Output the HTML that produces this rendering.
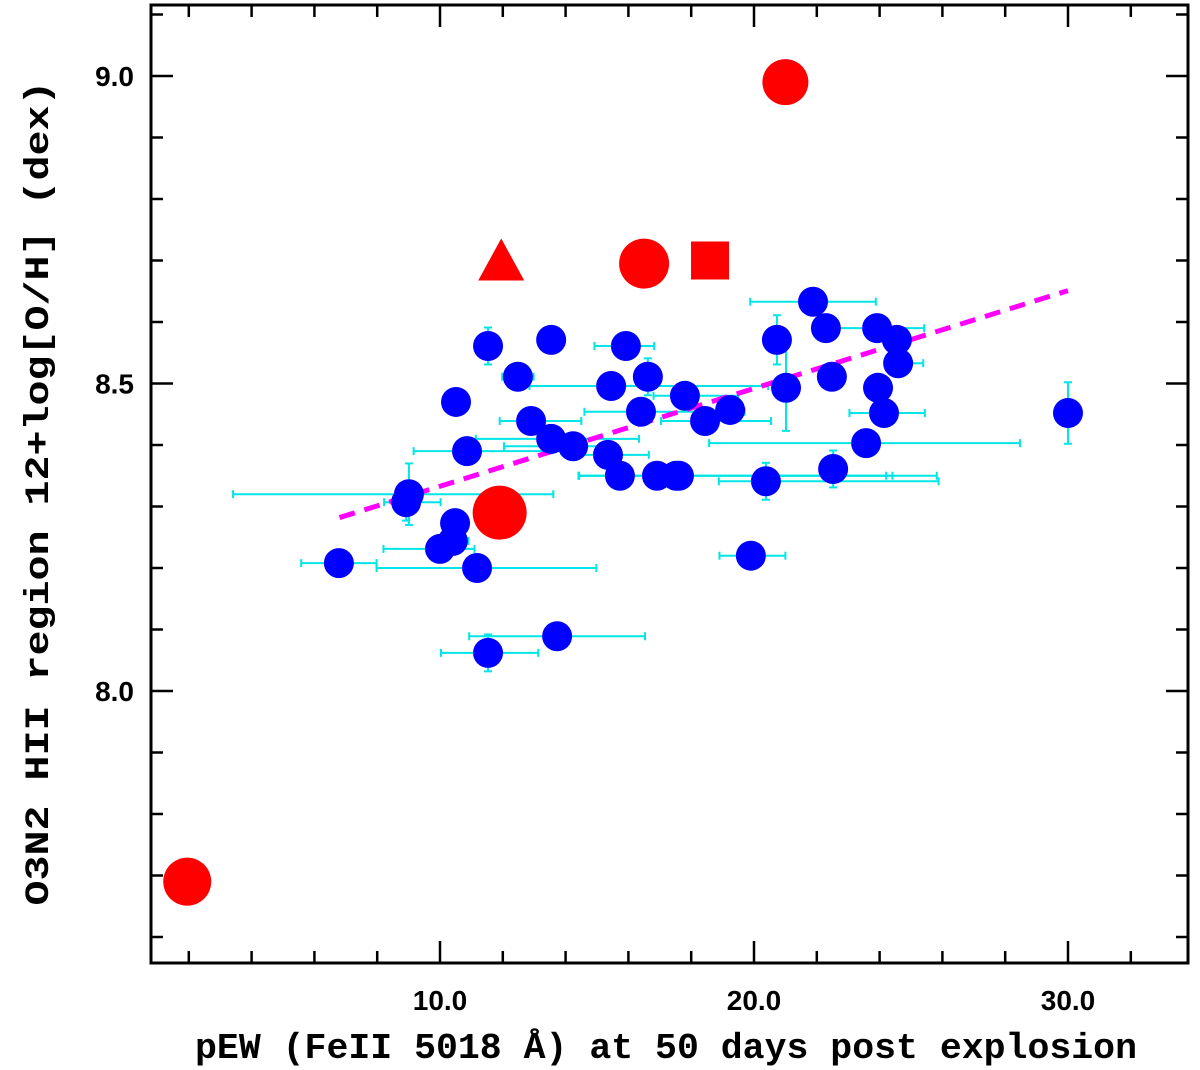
<!DOCTYPE html>
<html><head><meta charset="utf-8"><style>
body{margin:0;background:#fff}
svg{display:block}
</style></head><body>
<svg id="chart" width="1200" height="1070" xmlns="http://www.w3.org/2000/svg"></svg>
<script>
// data arrays
const pewX = [6.78,9.01,8.92,10.0,10.41,10.48,11.18,11.53,10.51,10.86,12.48,12.90,13.54,13.54,14.24,15.35,15.45,15.73,15.92,16.40,16.62,16.91,17.52,17.61,17.80,18.44,19.24,19.90,20.38,20.73,21.02,21.88,22.29,22.48,22.52,23.57,23.92,23.95,24.14,24.55,24.59,30.0,13.73,11.53];
const ohY = [8.208,8.320,8.307,8.231,8.244,8.273,8.200,8.561,8.470,8.390,8.511,8.439,8.571,8.410,8.398,8.384,8.496,8.350,8.561,8.454,8.511,8.350,8.350,8.350,8.480,8.439,8.457,8.220,8.341,8.571,8.493,8.633,8.590,8.511,8.361,8.403,8.590,8.493,8.452,8.571,8.533,8.452,8.089,8.062];
const xErrLo = [1.2,5.6,0.7,1.8,0.5,0,3.2,0,0,1.7,0.5,1.0,0,2.4,2.2,1.0,2.6,1.3,1.0,1.8,0,2.5,3.1,0.9,1.0,1.4,0.3,1.0,1.5,0,0,2.0,0,0,0,5.0,1.3,0,1.1,0,0,0,2.8,1.5];
const xErrHi = [1.2,4.6,1.1,1.1,0.5,0,3.8,0,0,3.0,0.5,1.6,0,2.8,0.9,1.3,5.0,2.2,0.9,3.3,0,7.3,8.3,6.8,1.7,2.1,0.3,1.1,5.5,0,0,2.0,0,0,0,4.9,1.5,0,1.3,0,0.8,0,2.8,1.6];
const yErr = [0.02,0.05,0.03,0.02,0.02,0.02,0.02,0.03,0.02,0.02,0.02,0.02,0.02,0.02,0.02,0.02,0.02,0.02,0.02,0.02,0.03,0.02,0.02,0.02,0.02,0.02,0.02,0.02,0.03,0.04,0.07,0.02,0.02,0.02,0.03,0.02,0.02,0.02,0.02,0.02,0.02,0.05,0.02,0.03];
const redCircX = [1.95,21.0,16.5,11.9];
const redCircY = [7.69,8.99,8.695,8.29];
const redCircR = [24,23,25,27];
const triX = [11.95], triY = [8.70];
const sqX = [18.6], sqY = [8.70];
const fitX = [6.8,30.0], fitY = [8.282,8.651];
const xTicks = [10,20,30], xTickLabels = ["10.0","20.0","30.0"];
const yTicks = [8.0,8.5,9.0], yTickLabels = ["8.0","8.5","9.0"];

const L=151,R=1188,T=5,B=963;
const sx = v => 126 + v*31.4;
const sy = v => 76 + (9.0 - v)*615;
const svg = document.getElementById('chart');
const NS='http://www.w3.org/2000/svg';
function el(tag, attrs, parent){const e=document.createElementNS(NS,tag);for(const k in attrs)e.setAttribute(k,attrs[k]);(parent||svg).appendChild(e);return e;}

const gErr = el('g',{});


pewX.forEach((x,i)=>{
  const y=ohY[i], cx=sx(x), cy=sy(y), st={stroke:'#00e5e5','stroke-width':2};
  if(xErrLo[i]+xErrHi[i]>0){
    const x1=sx(x-xErrLo[i]), x2=sx(x+xErrHi[i]);
    el('line',{x1,x2,y1:cy,y2:cy,...st},gErr);
    el('line',{x1,x2:x1,y1:cy-4,y2:cy+4,...st},gErr);
    el('line',{x1:x2,x2,y1:cy-4,y2:cy+4,...st},gErr);
  }
  const y1=sy(y+yErr[i]), y2=sy(y-yErr[i]);
  el('line',{x1:cx,x2:cx,y1,y2,...st},gErr);
  el('line',{x1:cx-4,x2:cx+4,y1,y2:y1,...st},gErr);
  el('line',{x1:cx-4,x2:cx+4,y1:y2,y2,...st},gErr);
});
const fit = el('line',{x1:sx(fitX[0]),y1:sy(fitY[0]),x2:sx(fitX[1]),y2:sy(fitY[1]),stroke:'#ff00ff','stroke-width':5,'stroke-dasharray':'16,10'});


pewX.forEach((x,i)=>{
  const c=el('circle',{cx:sx(x),cy:sy(ohY[i]),r:15,fill:'#0000ff'});
  
  
});
redCircX.forEach((x,i)=>{
  const c=el('circle',{cx:sx(x),cy:sy(redCircY[i]),r:redCircR[i],fill:'#ff0000'});
  
  
});
triX.forEach((x,i)=>{
  const cx=sx(x),cy=sy(triY[i]);
  const p=el('polygon',{points:`${cx-23},${cy+20} ${cx+23},${cy+20} ${cx},${cy-22}`,fill:'#ff0000'});
  
  
});
sqX.forEach((x,i)=>{
  const cx=sx(x),cy=sy(sqY[i]);
  const r=el('rect',{x:cx-19,y:cy-19,width:38,height:38,fill:'#ff0000'});
  
  
});
const fr=el('rect',{x:L,y:T,width:R-L,height:B-T,fill:'none',stroke:'#000','stroke-width':3});


for(let v=2; v<=33; v+=2){
  const X=sx(v), big=(v%10===0)?22:12;
  el('line',{x1:X,x2:X,y1:B,y2:B-big,stroke:'#000','stroke-width':2.5});
  el('line',{x1:X,x2:X,y1:T,y2:T+big,stroke:'#000','stroke-width':2.5});
}
for(let k=76; k<=91; k++){
  const v=k/10, Y=sy(v), big=(k%5===0)?22:12;
  if(Y<T||Y>B) continue;
  el('line',{x1:L,x2:L+big,y1:Y,y2:Y,stroke:'#000','stroke-width':2.5});
  el('line',{x1:R,x2:R-big,y1:Y,y2:Y,stroke:'#000','stroke-width':2.5});
}
xTicks.forEach((v,i)=>{
  const t=el('text',{x:sx(v),y:1010,'text-anchor':'middle','font-family':'Liberation Sans, sans-serif','font-weight':'bold','font-size':28});
  t.textContent=xTickLabels[i];
  
  
});
yTicks.forEach((v,i)=>{
  const t=el('text',{x:134,y:sy(v)+10,'text-anchor':'end','font-family':'Liberation Sans, sans-serif','font-weight':'bold','font-size':28});
  t.textContent=yTickLabels[i];
  
  
});
const xt=el('text',{x:666,y:1058,'text-anchor':'middle','font-family':'Liberation Mono, monospace','font-weight':'bold','font-size':36,textLength:942,lengthAdjust:'spacingAndGlyphs'});
xt.textContent='pEW (FeII 5018 Å) at 50 days post explosion';


const yt=el('text',{x:0,y:0,transform:'translate(48,493) rotate(-90)','text-anchor':'middle','font-family':'Liberation Mono, monospace','font-weight':'bold','font-size':34,textLength:825,lengthAdjust:'spacingAndGlyphs'});
yt.textContent='O3N2 HII region 12+log[O/H] (dex)';


</script>
</body></html>
